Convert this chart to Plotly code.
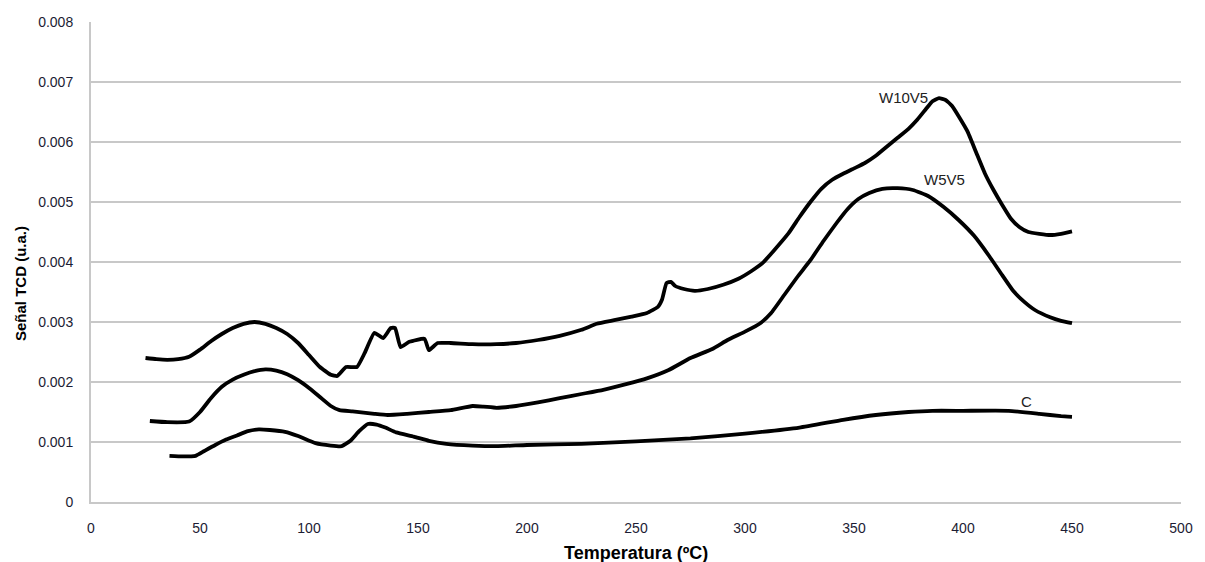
import plotly.graph_objects as go

# Temperature-programmed reduction profiles (TCD signal vs temperature)
w10v5_temp = [25, 30, 35, 40, 45, 50, 55, 60, 65, 70, 75, 80, 85, 90, 95, 100, 105, 110, 113,
              117, 122, 125.5, 130, 134, 137.5, 139.5, 142, 146, 153, 155, 159, 165, 175, 186,
              195, 205, 215, 225, 232, 240, 248, 255, 260, 262, 264, 266, 268, 272, 277, 283,
              290, 297, 303, 308, 313, 320, 325, 330, 335, 340, 345, 350, 355, 360, 365, 370,
              375, 379, 383, 386, 389, 392, 395, 398, 402, 406, 410, 414, 418, 422, 426, 430,
              435, 440, 445, 450]
w10v5_tcd = [0.00240, 0.00238, 0.00237, 0.00238, 0.00242, 0.00254, 0.00268, 0.00280, 0.00290,
             0.00297, 0.00300, 0.00297, 0.00290, 0.00280, 0.00265, 0.00245, 0.00225, 0.00212,
             0.00210, 0.00225, 0.00225, 0.00248, 0.00282, 0.00273, 0.00290, 0.00290, 0.00258,
             0.00267, 0.00272, 0.00253, 0.00265, 0.00265, 0.00263, 0.00263, 0.00265, 0.00270,
             0.00277, 0.00287, 0.00297, 0.00303, 0.00309, 0.00315, 0.00325, 0.00338, 0.00365,
             0.00367, 0.00360, 0.00355, 0.00352, 0.00355, 0.00362, 0.00372, 0.00385, 0.00398,
             0.00418, 0.00448, 0.00475, 0.00500, 0.00522, 0.00537, 0.00547, 0.00556, 0.00565,
             0.00577, 0.00592, 0.00607, 0.00622, 0.00637, 0.00655, 0.00668, 0.00673, 0.00670,
             0.00660, 0.00643, 0.00618, 0.00583, 0.00548, 0.00520, 0.00495, 0.00472, 0.00458,
             0.00450, 0.00447, 0.00445, 0.00447, 0.00451]

w5v5_temp = [27, 35, 45, 50, 55, 60, 65, 70, 75, 80, 85, 90, 95, 100, 105, 110, 114, 120, 130,
             136, 145, 155, 165, 175, 180, 186, 195, 205, 215, 225, 235, 245, 255, 265, 275,
             285, 292, 300, 307, 312, 318, 324, 330, 336, 342, 347, 352, 357, 363, 370, 377,
             384, 391, 398, 405, 412, 418, 423, 428, 433, 440, 445, 450]
w5v5_tcd = [0.00135, 0.00133, 0.00134, 0.00150, 0.00173, 0.00192, 0.00204, 0.00212, 0.00218,
            0.00221, 0.00219, 0.00213, 0.00203, 0.00190, 0.00175, 0.00160, 0.00153, 0.00151,
            0.00147, 0.00145, 0.00147, 0.00150, 0.00153, 0.00160, 0.00159, 0.00157, 0.00160,
            0.00166, 0.00173, 0.00180, 0.00187, 0.00196, 0.00206, 0.00220, 0.00240, 0.00255,
            0.00270, 0.00284, 0.00298, 0.00315, 0.00345, 0.00375, 0.00403, 0.00435, 0.00465,
            0.00488, 0.00505, 0.00515, 0.00522, 0.00523, 0.00520, 0.00510, 0.00492, 0.00470,
            0.00444, 0.00410, 0.00378, 0.00352, 0.00334, 0.00320, 0.00308, 0.00302, 0.00298]

c_temp = [36, 42, 48, 52, 57, 62, 67, 72, 77, 82, 89, 95, 103, 110, 115, 119, 123, 127, 131,
          135, 140, 148, 155, 163, 175, 186, 200, 225, 250, 275, 300, 325, 345, 360, 375, 386,
          400, 421, 435, 445, 450]
c_tcd = [0.00077, 0.00076, 0.00077, 0.00085, 0.00095, 0.00104, 0.00111, 0.00118, 0.00121,
         0.00120, 0.00117, 0.00110, 0.00098, 0.00094, 0.00093, 0.00102, 0.00118, 0.00130,
         0.00129, 0.00124, 0.00116, 0.00109, 0.00102, 0.00097, 0.00094, 0.00093, 0.00095,
         0.00097, 0.00101, 0.00106, 0.00114, 0.00124, 0.00137, 0.00145, 0.00150, 0.00152,
         0.00152, 0.00152, 0.00147, 0.00143, 0.00142]

series_names = ["W10V5", "W5V5", "C"]
label_x = [372.5, 391.5, 429]
label_y = [0.00675, 0.00537, 0.00168]

y_ticks = [0, 0.001, 0.002, 0.003, 0.004, 0.005, 0.006, 0.007, 0.008]
y_tick_text = ["0", "0.001", "0.002", "0.003", "0.004", "0.005", "0.006", "0.007", "0.008"]
x_ticks = [0, 50, 100, 150, 200, 250, 300, 350, 400, 450, 500]

base_font = "Liberation Sans, Arial, sans-serif"
tick_font = dict(family=base_font, size=14, color="#1c1c34")
grid_color = "#c8c8c8"

fig = go.Figure()
for xs, ys, name in [(w10v5_temp, w10v5_tcd, series_names[0]),
                     (w5v5_temp, w5v5_tcd, series_names[1]),
                     (c_temp, c_tcd, series_names[2])]:
    fig.add_trace(go.Scatter(x=xs, y=ys, mode="lines", name=name,
                             line=dict(color="black", width=3.8, shape="spline", smoothing=0.4),
                             showlegend=False))

# Curve labels
for name, lx, ly in zip(series_names, label_x, label_y):
    fig.add_annotation(x=lx, y=ly, text=name, showarrow=False,
                       font=dict(family=base_font, size=15, color="#222222"))

# Axis titles
fig.add_annotation(x=0.5, y=0, xref="paper", yref="paper", yshift=-51,
                   text="<b>Temperatura (ºC)</b>", showarrow=False,
                   xanchor="center", yanchor="middle",
                   font=dict(family=base_font, size=18, color="black"))
fig.add_annotation(x=0, y=0.5, xref="paper", yref="paper", xshift=-71, yshift=-22,
                   text="<b>Señal TCD (u.a.)</b>", showarrow=False, textangle=-90,
                   xanchor="center", yanchor="middle",
                   font=dict(family=base_font, size=15, color="black"))

fig.update_layout(
    width=1205, height=562,
    margin=dict(l=91, r=15, t=22, b=60),
    paper_bgcolor="white", plot_bgcolor="white",
    xaxis=dict(range=[0, 500], tickvals=x_ticks, showgrid=False, zeroline=False,
               showline=True, linecolor=grid_color, linewidth=2, ticks="",
               tickfont=tick_font, ticklabelstandoff=12),
    yaxis=dict(range=[0, 0.008], tickvals=y_ticks, ticktext=y_tick_text,
               showgrid=True, gridcolor=grid_color, gridwidth=2, zeroline=False,
               showline=True, linecolor=grid_color, linewidth=2, ticks="",
               tickfont=tick_font, ticklabelstandoff=13),
)

fig.write_html("out.html")
